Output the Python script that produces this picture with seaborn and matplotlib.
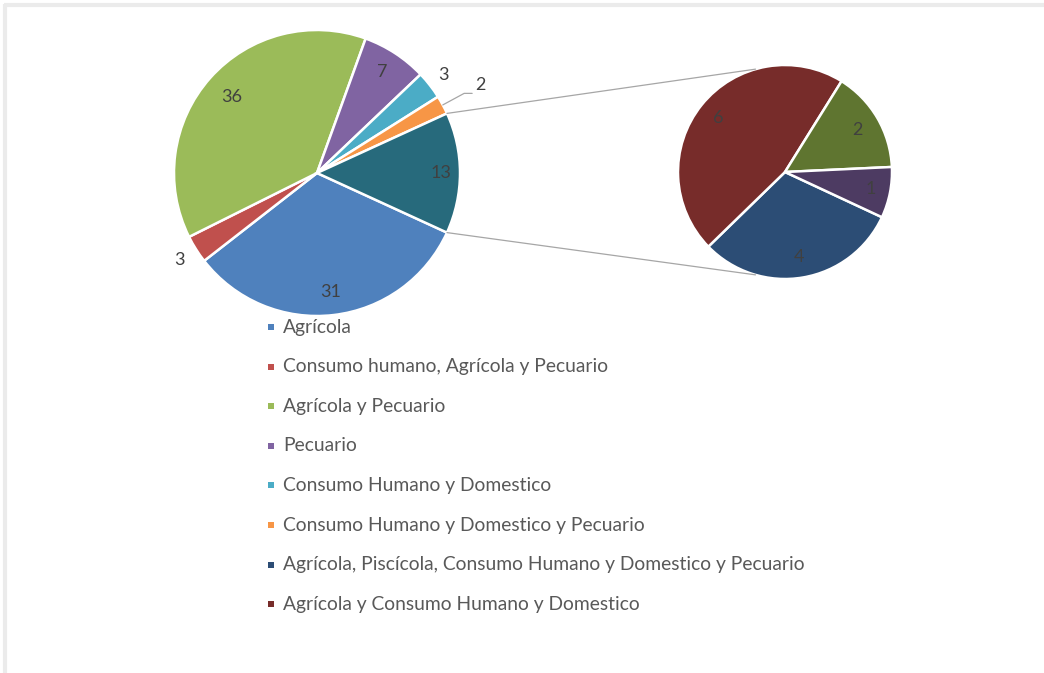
# Pie of pie: uso del agua

import numpy as np
import matplotlib.pyplot as plt
import seaborn as sns

sns.set_style('white')
plt.rcParams['font.family'] = ['Lato', 'DejaVu Sans']

# data
main_labels = ['Agrícola', 'Consumo humano, Agrícola y Pecuario', 'Agrícola y Pecuario', 'Pecuario',
               'Consumo Humano y Domestico', 'Consumo Humano y Domestico y Pecuario']
main_vals = [31, 3, 36, 7, 3, 2]
sec_labels = ['Agrícola, Piscícola, Consumo Humano y Domestico y Pecuario',
              'Agrícola y Consumo Humano y Domestico', 'Otro 1', 'Otro 2']
sec_vals = [4, 6, 2, 1]
other_val = sum(sec_vals)

main_colors = ['#4F81BD', '#C0504D', '#9BBB59', '#8064A2', '#4BACC6', '#F79646', '#276A7C']
sec_colors = ['#2C4D75', '#772C2A', '#5F7530', '#4D3B62']

# layout (pixels, y from top)
W, H = 1044, 673
c1, r1 = (317, 173), 143
c2, r2 = (785, 172), 107
main_lab_r = [0.84, 1.14, 0.80, 0.84, 1.12, 1.30, 0.87]
sec_lab_r = [0.81, 0.80, 0.78, 0.82]
txt_col = '#404040'

fig = plt.figure(figsize=(W / 100, H / 100), dpi=100)
ax = fig.add_axes([0, 0, 1, 1])

vals1 = main_vals + [other_val]
start1 = -other_val / sum(vals1) * 360 / 2
w1, _ = ax.pie(vals1, colors=main_colors, startangle=start1, counterclock=False,
               center=(c1[0], H - c1[1]), radius=r1, frame=True,
               wedgeprops=dict(edgecolor='white', linewidth=1.8))
w2, _ = ax.pie(sec_vals, colors=sec_colors, startangle=-25, counterclock=False,
               center=(c2[0], H - c2[1]), radius=r2, frame=True,
               wedgeprops=dict(edgecolor='white', linewidth=1.8))
ax.set_xlim(0, W)
ax.set_ylim(0, H)
ax.set_aspect('equal')
ax.axis('off')


def pt(c, r, ang):
    a = np.deg2rad(ang)
    return c[0] + r * np.cos(a), H - c[1] + r * np.sin(a)


# data labels
for w, v, lr in zip(w1, vals1, main_lab_r):
    mid = (w.theta1 + w.theta2) / 2
    x, y = pt(c1, r1 * lr, mid)
    ax.text(x, y, str(v), ha='center', va='center', fontsize=13, color=txt_col)
    if lr > 1.2:
        x0, y0 = pt(c1, r1 * 1.0, mid)
        x1, y1 = pt(c1, r1 * 1.17, mid)
        ax.plot([x0, x1, x1 + 8], [y0, y1, y1], color='#A6A6A6', lw=0.9)
for w, v, lr in zip(w2, sec_vals, sec_lab_r):
    mid = (w.theta1 + w.theta2) / 2
    x, y = pt(c2, r2 * lr, mid)
    ax.text(x, y, str(v), ha='center', va='center', fontsize=13, color=txt_col)

# connector lines
half = w1[-1].theta2 - w1[-1].theta1
for s in (1, -1):
    x0, y0 = pt(c1, r1, s * half / 2)
    x1, y1 = pt(c2, r2, s * 106)
    ax.plot([x0, x1], [y0, y1], color='#A6A6A6', lw=0.9)

# legend
leg_labels = main_labels + sec_labels[:2]
leg_colors = main_colors[:6] + sec_colors[:2]
y_leg, step = 327, 39.6
for i, (lab, col) in enumerate(zip(leg_labels, leg_colors)):
    yy = H - (y_leg + i * step)
    ax.scatter([271], [yy], marker='s', s=22, color=col, linewidths=0)
    ax.text(283, yy, lab, ha='left', va='center', fontsize=13.9, color='#595959')

# frame
ax.plot([4, W], [H - 5, H - 5], color='#EBEBEB', lw=3, solid_capstyle='butt')
ax.plot([5, 5], [0, H - 4], color='#EBEBEB', lw=3, solid_capstyle='butt')

plt.savefig('out.png', dpi=100)
